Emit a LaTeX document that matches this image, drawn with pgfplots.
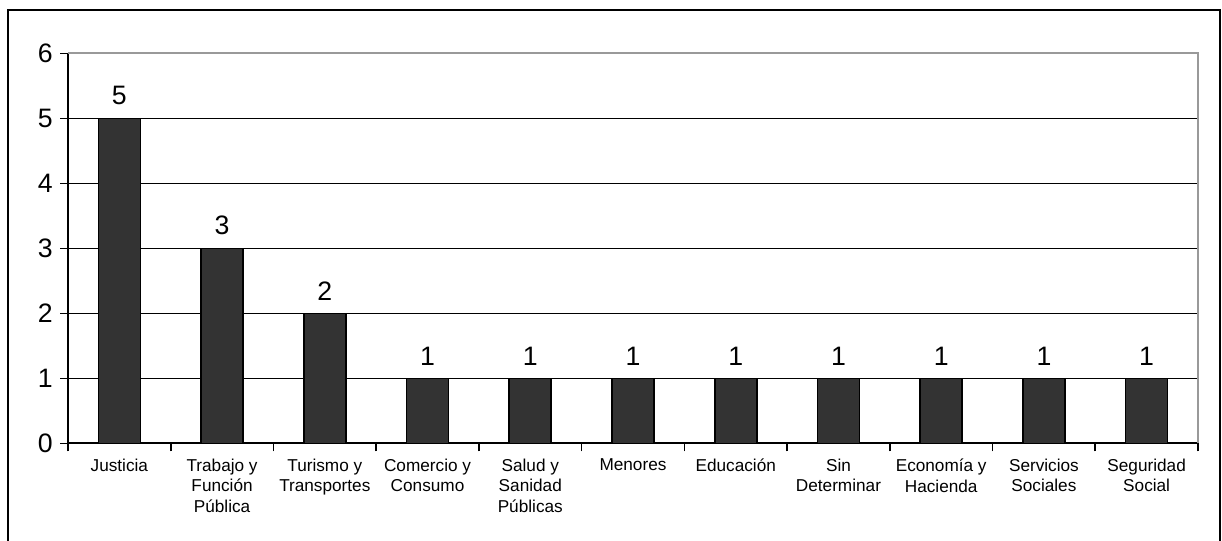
\documentclass[border=0pt]{standalone}
\usepackage{pgfplots}
\pgfplotsset{compat=1.18}
\usepackage{fontspec}
\setmainfont{Liberation Sans}
\definecolor{barfill}{HTML}{333333}
\begin{document}
\begin{tikzpicture}[x=0.75pt,y=0.75pt]
\useasboundingbox (0,0) rectangle (1222,-540);
\draw[line width=1.5pt] (8.3,-545) -- (8.3,-10) -- (1220,-10) -- (1220,-545);
\begin{axis}[
  at={(51pt,-332.475pt)}, anchor=south west,
  scale only axis, width=847.5pt, height=292.5pt,
  xmin=-0.5, xmax=10.5, ymin=0, ymax=6,
  axis x line*=bottom, axis y line*=left,
  axis line style={black, line width=1.3pt, -},
  ytick={0,1,2,3,4,5,6},
  ymajorgrids, grid style={black, line width=1.2pt},
  tick align=outside,
  major tick length=6pt,
  tick style={black, line width=1.2pt},
  yticklabel style={font=\fontsize{20}{20}\selectfont, xshift=-2pt},
  /pgf/number format/assume math mode=true,
  xtick={-0.5,0.5,...,10.5},
  xticklabels={},
  extra x ticks={0,1,2,3,4,5,6,7,8,9,10},
  extra x tick style={major tick length=0pt, grid=none},
  extra x tick labels={Justicia,{Trabajo y\\Función\\Pública},{Turismo y\\Transportes},{Comercio y\\Consumo},{Salud y\\Sanidad\\Públicas},Menores,Educación,{Sin\\Determinar},{Economía y\\Hacienda},{Servicios\\Sociales},{Seguridad\\Social}},
  xticklabel style={font=\fontsize{12.9}{15.5}\selectfont, align=center, anchor=north, yshift=-8pt},
  ybar, bar width=31.5pt,
  nodes near coords,
  every node near coord/.append style={font=\fontsize{20}{20}\selectfont, black, yshift=6pt},
  clip=false,
]
\addplot[fill=barfill, draw=black, line width=1.2pt] coordinates {
(0,5) (1,3) (2,2) (3,1) (4,1) (5,1) (6,1) (7,1) (8,1) (9,1) (10,1)};
\draw[gray!80, line width=1.3pt] (rel axis cs:0,1) -- (rel axis cs:1,1) -- (rel axis cs:1,0);
\end{axis}
\end{tikzpicture}
\end{document}
